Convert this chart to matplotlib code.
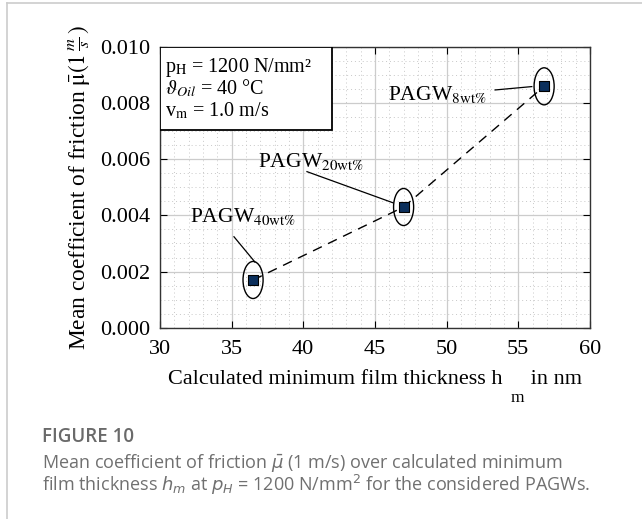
import matplotlib
matplotlib.use("Agg")
import matplotlib.pyplot as plt
from matplotlib.patches import Ellipse, Rectangle
from matplotlib.lines import Line2D
from matplotlib.ticker import MultipleLocator

# data
film_thickness = [36.5, 47.0, 56.8]          # h_m in nm
friction = [0.0017, 0.0043, 0.0086]          # mean coefficient of friction
labels = ["PAGW$_{\\mathrm{40wt\\%}}$", "PAGW$_{\\mathrm{20wt\\%}}$", "PAGW$_{\\mathrm{8wt\\%}}$"]
label_pos = [(32.1, 0.00377), (36.85, 0.00574), (45.9, 0.00812)]
leader_start = [(35.17, 0.00324), (40.26, 0.00556), (53.38, 0.00847)]
leader_end = [(36.63, 0.00234), (46.26, 0.00445), (55.94, 0.00859)]
x_ticks = [30, 35, 40, 45, 50, 55, 60]
y_ticks = [0.000, 0.002, 0.004, 0.006, 0.008, 0.010]
conditions = ["p$_\\mathrm{H}$ = 1200 N/mm²",
              "$\\vartheta_{Oil}$ = 40 °C",
              "v$_\\mathrm{m}$ = 1.0 m/s"]
cond_y = [0.00910, 0.00831, 0.00753]

plt.rcParams.update({
    "font.family": ["Liberation Serif", "DejaVu Serif"],
    "mathtext.fontset": "stix",
    "font.size": 16,
})

fig = plt.figure(figsize=(6.42, 5.19), dpi=100)
ax = fig.add_axes([0.249, 0.3686, 0.670, 0.5408])

ax.plot(film_thickness, friction, ls=(0, (7, 5)), color="black", lw=1.0, zorder=3)
ax.scatter(film_thickness, friction, marker="s", s=60, color="#0b2f5c",
           edgecolor="black", linewidth=0.8, zorder=5)

for x, y in zip(film_thickness, friction):
    ax.add_patch(Ellipse((x, y), 1.4, 0.00132, fill=False, edgecolor="black",
                         lw=1.0, zorder=4))

for lab, (tx, ty) in zip(labels, label_pos):
    ax.text(tx, ty, lab, fontsize=15.5, ha="left", va="baseline", zorder=6)

# leader lines from the labels to the ellipses
for (x0, y0), (x1, y1) in zip(leader_start, leader_end):
    ax.plot([x0, x1], [y0, y1], color="black", lw=0.9, zorder=4)

ax.set_xlim(30, 60)
ax.set_ylim(0, 0.010)
ax.set_xticks(x_ticks)
ax.set_yticks(y_ticks)
ax.set_yticklabels([f"{v:.3f}" for v in y_ticks])
ax.xaxis.set_minor_locator(MultipleLocator(1))
ax.yaxis.set_minor_locator(MultipleLocator(0.0005))
ax.grid(which="major", color="#cccccc", lw=0.9)
ax.grid(which="minor", color="#c8c8c8", lw=0.7, ls=(0, (1, 3)))
ax.set_axisbelow(True)
ax.tick_params(which="both", direction="in", labelsize=16, length=5, width=0.8,
               top=True, right=True)
ax.tick_params(axis="y", pad=7)
ax.tick_params(axis="x", pad=9)
ax.tick_params(which="minor", length=0)
for s in ax.spines.values():
    s.set_color("#333333")
    s.set_linewidth(1.0)

ax.set_xlabel("Calculated minimum film thickness h     in nm", fontsize=16, labelpad=8)
fig.text(517 / 642, 1 - 398 / 519, "m", fontsize=12.5, ha="center", va="center")
ax.set_ylabel("Mean coefficient of friction $\\mathrm{\\bar{\\mu}}(1\\,\\frac{m}{s}\\,)$",
              fontsize=16.8, labelpad=6)

# conditions box
ax.add_patch(Rectangle((30, 0.00706), 12.0, 0.00294, facecolor="white", edgecolor="black",
                       lw=1.3, zorder=7))
for line, y in zip(conditions, cond_y):
    ax.text(30.35, y, line, fontsize=14.5, ha="left", va="baseline", zorder=8)

# card frame and caption
fig.add_artist(Line2D([0.011, 0.011], [0.0, 0.994], color="#cccccc", lw=1.2))
fig.add_artist(Line2D([0.011, 1.0], [0.994, 0.994], color="#cccccc", lw=1.2))
fig.text(0.065, 0.158, "FIGURE 10", fontsize=13.5, family="Open Sans", weight="semibold",
         color="#6a6a6a", va="center")
fig.text(0.065, 0.108,
         "Mean coefficient of friction $\\bar{\\mu}$ (1 m/s) over calculated minimum",
         fontsize=13, family="Open Sans", color="#707070", va="center",
         math_fontfamily="dejavusans")
fig.text(0.065, 0.066,
         "film thickness $h_m$ at $p_H$ = 1200 N/mm$^2$ for the considered PAGWs.",
         fontsize=13, family="Open Sans", color="#707070", va="center",
         math_fontfamily="dejavusans")

fig.savefig("out.png", dpi=100)
